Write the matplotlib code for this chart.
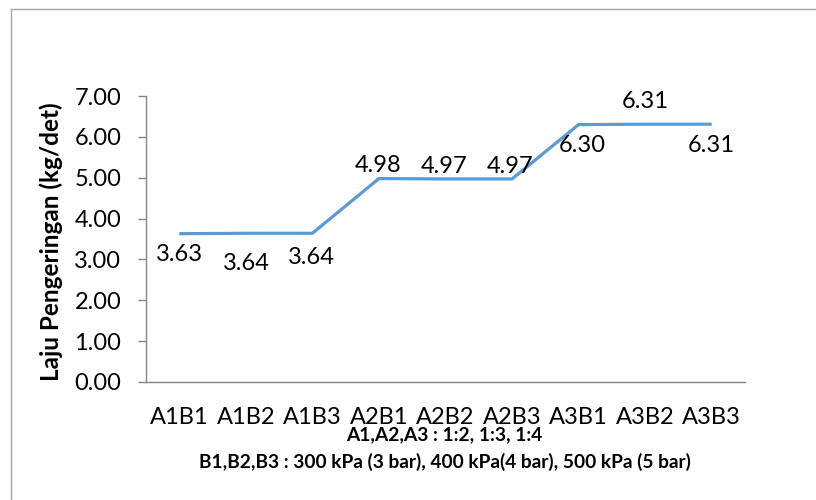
import matplotlib.pyplot as plt
from matplotlib.lines import Line2D

categories = ['A1B1', 'A1B2', 'A1B3', 'A2B1', 'A2B2', 'A2B3', 'A3B1', 'A3B2', 'A3B3']
laju = [3.63, 3.64, 3.64, 4.98, 4.97, 4.97, 6.30, 6.31, 6.31]
# label offsets in pixels (dx, dy), as placed in the original chart
label_offsets = [(0, -21), (1, -30), (-1, -24), (-1, 13), (-1, 12.5), (-2, 12.5), (4, -21), (0, 22.5), (0, -21)]
yticks = [0, 1, 2, 3, 4, 5, 6, 7]

plt.rcParams['font.family'] = ['Lato', 'DejaVu Sans']

fig = plt.figure(figsize=(8.16, 5.0), dpi=100)
ax = fig.add_axes([146 / 816, 1 - 382 / 500, (745 - 146) / 816, (382 - 96) / 500])

x = list(range(len(categories)))
ax.plot(x, laju, color='#5B9BD5', linewidth=2.3, solid_capstyle='butt', solid_joinstyle='miter')

for xi, v, (dx, dy) in zip(x, laju, label_offsets):
    ax.annotate(f"{v:.2f}", (xi, v), xytext=(dx * 0.72, dy * 0.72), textcoords='offset points',
                ha='center', va='center', fontsize=17, color='black')

ax.set_xlim(-0.5, len(categories) - 0.5)
ax.set_ylim(0, 7)
ax.set_yticks(yticks)
ax.set_yticklabels([f"{t:.2f}" for t in yticks], fontsize=17)
ax.set_xticks(x)
ax.set_xticklabels(categories, fontsize=17)
ax.tick_params(axis='x', length=0, pad=18)
ax.tick_params(axis='y', length=5.8, width=1, color='#868686', direction='out', pad=12)

for s in ['top', 'right']:
    ax.spines[s].set_visible(False)
for s in ['left', 'bottom']:
    ax.spines[s].set_color('#868686')
    ax.spines[s].set_linewidth(1)

fig.text(51 / 816, 1 - 242 / 500, "Laju Pengeringan (kg/det)", rotation=90, ha='center', va='center',
         fontsize=17.5, fontweight='bold')

fig.text(444 / 816, 1 - 435 / 500, "A1,A2,A3 : 1:2, 1:3, 1:4", ha='center', va='center',
         fontsize=13.8, fontweight='bold')
fig.text(445 / 816, 1 - 462 / 500, "B1,B2,B3 : 300 kPa (3 bar), 400 kPa(4 bar), 500 kPa (5 bar)",
         ha='center', va='center', fontsize=13.8, fontweight='bold')

# chart frame (only top and left edges visible in the original crop)
fig.add_artist(Line2D([11 / 816, 1], [1 - 9 / 500, 1 - 9 / 500], color='#a6a6a6', lw=1,
                      transform=fig.transFigure))
fig.add_artist(Line2D([11 / 816, 11 / 816], [0, 1 - 9 / 500], color='#a6a6a6', lw=1,
                      transform=fig.transFigure))

fig.savefig('out.png', dpi=100)
